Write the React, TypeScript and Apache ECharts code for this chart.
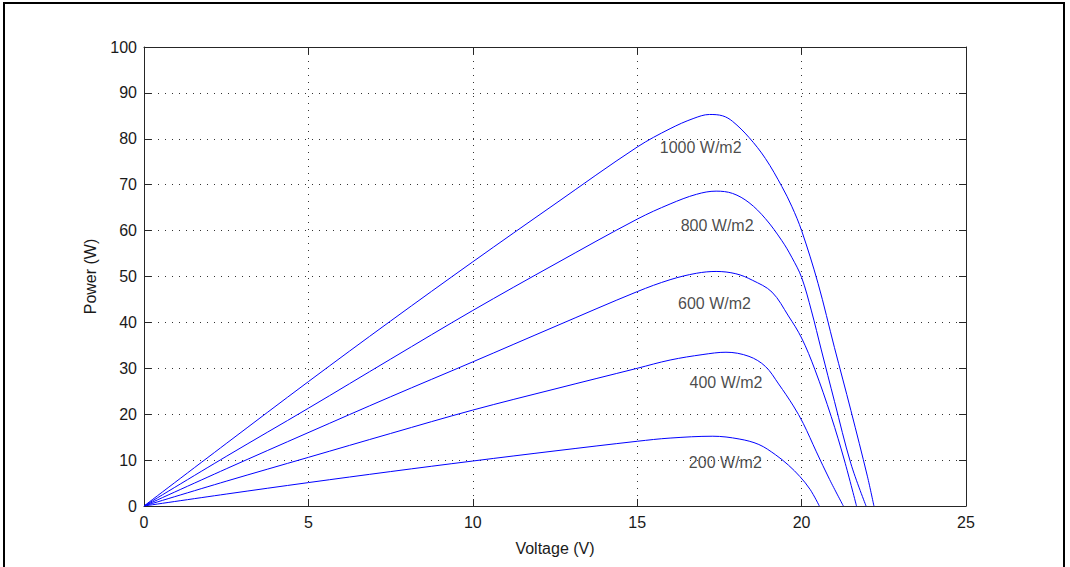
import React, { useEffect, useRef } from "react";
import * as echarts from "echarts";

// Voltage (V) / Power (W) readings for each irradiance curve
const V1000 = [0, 2.5, 5, 7.5, 10, 12.5, 15, 16, 16.7, 17.2, 17.6, 17.9, 18.4, 18.9, 19.4, 19.7, 20.0, 20.5, 21.0, 21.5, 22.0, 22.2];
const P1000 = [0, 13.6, 27.1, 40.3, 53.2, 65.8, 78.2, 82.2, 84.4, 85.3, 85.0, 83.8, 80.3, 75.7, 69.6, 65.3, 60.0, 48.5, 34.5, 20.8, 6.5, 0];

const V800 = [0, 2.5, 5, 7.5, 10, 12.5, 15, 16, 16.8, 17.4, 17.9, 18.4, 18.9, 19.4, 19.7, 20.0, 20.3, 20.6, 21.0, 21.5, 21.96];
const P800 = [0, 10.8, 21.3, 32.0, 42.6, 52.7, 62.5, 65.8, 67.9, 68.6, 68.1, 66.1, 62.6, 57.8, 54.2, 49.8, 42.5, 34.0, 22.8, 9.2, 0];

const V600 = [0, 2.5, 5, 7.5, 10, 12.5, 15, 16, 16.8, 17.4, 18.0, 18.5, 19.1, 19.6, 20.0, 20.4, 20.9, 21.3, 21.67];
const P600 = [0, 8.1, 16.0, 23.8, 31.4, 39.1, 46.7, 49.3, 50.7, 51.1, 50.6, 49.2, 46.6, 41.4, 36.6, 29.8, 19.5, 10.0, 0];

const V400 = [0, 2.5, 5, 7.5, 10, 12.5, 15, 16, 17, 17.7, 18.4, 18.9, 19.3, 19.75, 20.05, 20.45, 20.85, 21.27];
const P400 = [0, 5.4, 10.6, 15.8, 20.9, 25.5, 30.0, 31.8, 33.0, 33.5, 32.6, 30.4, 26.6, 21.8, 18.0, 11.8, 5.8, 0];

const V200 = [0, 2.5, 5, 7.5, 10, 12.5, 15, 16, 17.3, 18.1, 18.7, 19.2, 19.6, 19.95, 20.26, 20.54];
const P200 = [0, 2.6, 5.1, 7.5, 9.8, 12.0, 14.1, 14.8, 15.2, 14.6, 13.4, 11.2, 8.9, 6.4, 3.6, 0];

// Curve labels, placed in data space (V, P)
const labelText = ["1000 W/m2", "800 W/m2", "600 W/m2", "400 W/m2", "200 W/m2"];
const labelV = [16.93, 17.43, 17.35, 17.7, 17.68];
const labelP = [78.2, 61.2, 44.2, 26.8, 9.4];

const zip = (xs: number[], ys: number[]) => xs.map((x, i) => [x, ys[i]]);

const FONT = "'Liberation Sans', Arial, sans-serif";
const TXT = "#1a1a1a";
const AX = "#262626";

export default function App() {
  const ref = useRef<HTMLDivElement>(null);
  useEffect(() => {
    if (!ref.current) return;
    const chart = echarts.init(ref.current, undefined, { renderer: "svg" });
    const curves = [
      zip(V1000, P1000),
      zip(V800, P800),
      zip(V600, P600),
      zip(V400, P400),
      zip(V200, P200),
    ];
    const commonAxis = {
      type: "value" as const,
      axisLine: { show: true, onZero: false, lineStyle: { color: AX, width: 1 } },
      axisTick: { show: true, inside: true, length: 7, lineStyle: { color: AX } },
    };
    chart.setOption({
      animation: false,
      backgroundColor: "#fff",
      grid: { left: 144, top: 47, right: 104, bottom: 61, containLabel: false },
      xAxis: [
        {
          ...commonAxis,
          position: "bottom",
          min: 0,
          max: 25,
          interval: 5,
          name: "Voltage (V)",
          nameLocation: "middle",
          nameGap: 34,
          nameTextStyle: { color: TXT, fontSize: 16, fontFamily: FONT },
          axisLabel: { color: TXT, fontSize: 16, fontFamily: FONT, margin: 8 },
          splitLine: { show: true, lineStyle: { color: "#333", type: [1, 6], width: 1 } },
        },
        {
          ...commonAxis,
          position: "top",
          min: 0,
          max: 25,
          interval: 5,
          axisLabel: { show: false },
          splitLine: { show: false },
        },
      ],
      yAxis: [
        {
          ...commonAxis,
          position: "left",
          min: 0,
          max: 100,
          interval: 10,
          name: "Power (W)",
          nameLocation: "middle",
          nameGap: 46,
          nameTextStyle: { color: TXT, fontSize: 16, fontFamily: FONT },
          axisLabel: { color: TXT, fontSize: 16, fontFamily: FONT, margin: 7 },
          splitLine: { show: true, lineStyle: { color: "#333", type: [1, 6], width: 1 } },
        },
        {
          ...commonAxis,
          position: "right",
          min: 0,
          max: 100,
          interval: 10,
          axisLabel: { show: false },
          splitLine: { show: false },
        },
      ],
      series: [
        ...curves.map((d) => ({
          type: "line",
          data: d,
          showSymbol: false,
          smooth: 0.35,
          lineStyle: { color: "#0000ff", width: 1 },
          silent: true,
        })),
        {
          type: "scatter",
          symbolSize: 0,
          data: labelText.map((t, i) => ({ name: t, value: [labelV[i], labelP[i]] })),
          label: {
            show: true,
            position: "inside",
            formatter: (p: any) => p.name,
            color: TXT,
            fontSize: 16,
            fontFamily: FONT,
          },
          silent: true,
        },
      ],
      graphic: [
        {
          type: "rect",
          shape: { x: 4, y: 3, width: 1060, height: 580 },
          style: { fill: "none", stroke: "#000", lineWidth: 2 },
          silent: true,
        },
      ],
    });
    return () => chart.dispose();
  }, []);
  return (
    <div
      ref={ref}
      style={{ position: "fixed", left: 0, top: 0, width: 1070, height: 567, background: "#fff" }}
    />
  );
}
